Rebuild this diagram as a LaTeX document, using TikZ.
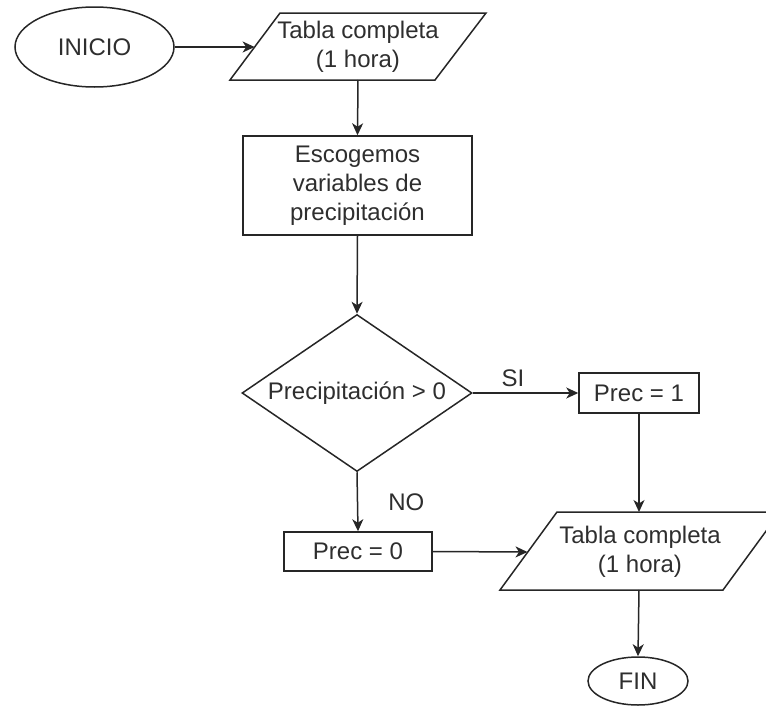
\documentclass[tikz,border=0pt]{standalone}
\usepackage{fontspec}
\setmainfont{Liberation Sans}
\usetikzlibrary{arrows.meta,shapes.geometric}
\begin{document}
\begin{tikzpicture}[x=1pt,y=-1pt,
  every node/.style={font=\fontsize{24}{29}\selectfont, text=black!82},
  line/.style={line width=1.5pt, draw=black!85},
  arr/.style={line, -{Stealth[length=12pt,width=11pt,inset=3.5pt]}},
  term/.style={line, ellipse, inner sep=0pt},
  proc/.style={line, rectangle, inner sep=0pt},
  dec/.style={line, diamond, inner sep=0pt, aspect=1.46},
  lbl/.style={inner sep=0pt, align=center}
]
\useasboundingbox (0,0) rectangle (766,707);
\clip (0,0) rectangle (766,707);

% start and end terminals
\node[term, minimum width=159pt, minimum height=80pt] (ini) at (94.5,47) {INICIO};
\node[term, minimum width=100pt, minimum height=48pt] (fin) at (638,681) {FIN};

% input table (top)
\coordinate (t1) at (280,13);
\coordinate (t2) at (486,13);
\coordinate (t3) at (435,80);
\coordinate (t4) at (230,80);
\draw[line] (t1) -- (t2) -- (t3) -- (t4) -- cycle;
\node[lbl] (tin) at (358,47) {Tabla completa\\(1 hora)};
\coordinate (tinL) at (254.6,47);
\coordinate (tinB) at (358,80);

% variable selection
\node[proc, minimum width=229pt, minimum height=99pt, align=center] (esc) at (357.5,185.5)
  {Escogemos\\variables de\\precipitación};

% decision
\node[dec, minimum width=230pt, minimum height=157pt] (dec) at (357,393) {Precipitación > 0};

% assignments
\node[proc, minimum width=120pt, minimum height=40pt] (p1) at (639,393) {Prec = 1};
\node[proc, minimum width=148pt, minimum height=39pt] (p0) at (358,551.5) {Prec = 0};

% output table (bottom)
\coordinate (b1) at (557,512);
\coordinate (b2) at (780,512);
\coordinate (b3) at (723,590);
\coordinate (b4) at (500,590);
\draw[line] (b1) -- (b2) -- (b3) -- (b4) -- cycle;
\node[lbl] (tout) at (640,552) {Tabla completa\\(1 hora)};
\coordinate (toutL) at (527.5,552);
\coordinate (toutT) at (639,512);
\coordinate (toutB) at (639,590);

% connectors
\draw[arr] (ini.east) -- (tinL);
\draw[arr] (tinB) -- (esc.north);
\draw[arr] (esc.south) -- (dec.north);
\draw[arr] (dec.east) -- (p1.west) node[pos=0.38, above=6pt, inner sep=0pt] {SI};
\draw[arr] (dec.south) -- (p0.north) node[pos=0.5, right=30pt, inner sep=0pt] {NO};
\draw[arr] (p1.south) -- (toutT);
\draw[arr] (p0.east) -- (toutL);
\draw[arr] (toutB) -- (fin.north);
\end{tikzpicture}
\end{document}
